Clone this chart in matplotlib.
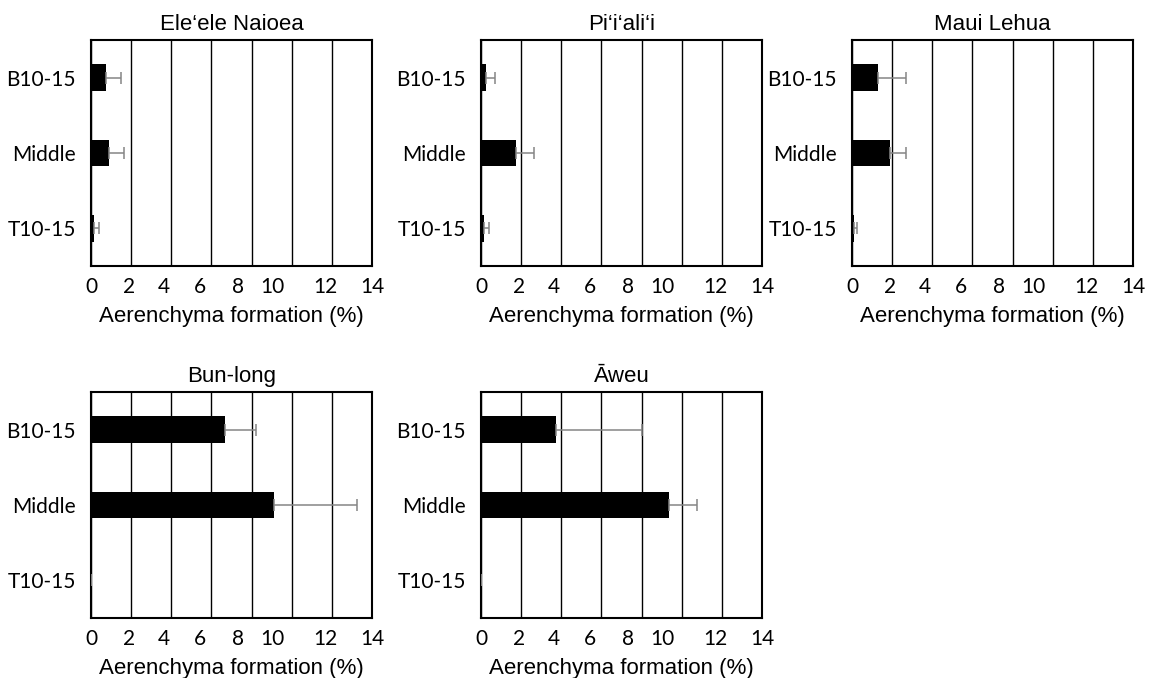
import matplotlib.pyplot as plt

# cultivars and depth positions
cultivars = ["Ele\u2018ele Naioea", "Pi\u2018i\u2018ali\u2018i", "Maui Lehua", "Bun-long", "\u0100weu"]
positions = ["B10-15", "Middle", "T10-15"]

# mean aerenchyma formation (%) for B10-15, Middle, T10-15
ele_mean = [0.76, 0.88, 0.13]
pii_mean = [0.25, 1.72, 0.13]
maui_mean = [1.28, 1.89, 0.08]
bun_mean = [6.67, 9.12, 0.0]
aweu_mean = [3.76, 9.39, 0.0]

# standard errors (upper side only)
ele_err = [0.73, 0.75, 0.25]
pii_err = [0.46, 0.90, 0.25]
maui_err = [1.41, 0.80, 0.19]
bun_err = [1.56, 4.11, 0.0]
aweu_err = [4.27, 1.36, 0.0]

means = [ele_mean, pii_mean, maui_mean, bun_mean, aweu_mean]
errs = [ele_err, pii_err, maui_err, bun_err, aweu_err]

xticks = [0, 2, 4, 6, 8, 10, 12, 14]
# the original labels sit a bit off their gridlines (points, left is negative)
label_shift = [0, -1.5, -5, -8, -10, -14, -4.5, 0]

tick_font = ["Lato", "DejaVu Sans"]
label_font = ["Liberation Sans", "DejaVu Sans"]

fig = plt.figure(figsize=(11.5, 6.78), dpi=100)
W, H = 1150.0, 678.0

# axes boxes in pixels: left, top, right, bottom
boxes = [
    (91, 40, 372, 266),
    (481, 40, 762, 266),
    (852, 40, 1133, 266),
    (91, 392, 372, 618),
    (481, 392, 762, 618),
]

for i in range(len(cultivars)):
    l, t, r, b = boxes[i]
    ax = fig.add_axes([l / W, 1 - b / H, (r - l) / W, (b - t) / H])
    ypos = list(range(len(positions)))
    ax.barh(ypos, means[i], height=0.35, color="black", zorder=3)
    ax.errorbar(means[i], ypos, xerr=[[0] * 3, errs[i]], fmt="none",
                ecolor="#858585", elinewidth=1.1, capsize=4, capthick=1.1, zorder=4)
    ax.set_xlim(0, 14)
    ax.set_ylim(2.5, -0.5)
    ax.set_xticks(xticks)
    ax.set_xticklabels([])
    for v, dx in zip(xticks, label_shift):
        ax.annotate(str(v), xy=(v, 0), xycoords=("data", "axes fraction"),
                    xytext=(dx, -8), textcoords="offset points",
                    ha="center", va="top", family=tick_font, fontsize=15)
    ax.set_yticks(ypos)
    ax.set_yticklabels(positions, family=tick_font, fontsize=15)
    ax.tick_params(length=0)
    ax.tick_params(axis="y", pad=11)
    ax.grid(axis="x", color="black", linewidth=1.0, zorder=0)
    ax.set_axisbelow(True)
    for s in ax.spines.values():
        s.set_linewidth(1.5)
        s.set_color("black")
    ax.set_title(cultivars[i], family=label_font, fontsize=16, pad=7)
    ax.set_xlabel("Aerenchyma formation (%)", family=label_font, fontsize=16, labelpad=25)

fig.savefig("out.png", dpi=100)
